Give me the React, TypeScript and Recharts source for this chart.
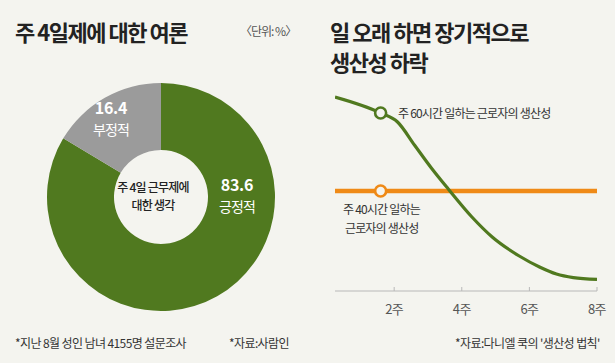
import { Cell, Line, LineChart, Pie, PieChart, XAxis, YAxis } from "recharts";

const FONT = '"Noto Sans CJK KR", "Noto Sans", sans-serif';
const BG = "#f4f4ef";
const GREEN = "#50791f";
const GRAY = "#9b9b9b";
const ORANGE = "#ef8a17";

// donut: survey on the 4-day work week (%)
const opinionNames = ["긍정적", "부정적"];
const opinionValues = [83.6, 16.4];
const opinionColors = [GREEN, GRAY];

// productivity curves (x = weeks, y = relative productivity)
const weekTicks = [2, 4, 6, 8];
const hours60Weeks = [0.25, 1.6, 2.1, 2.6, 3.1, 3.6, 4.3, 4.9, 5.7, 6.3, 6.8, 7.3, 8];
const hours60Values = [97, 89, 84.5, 73, 61.5, 51, 37, 27, 17.5, 12, 8.5, 6.7, 5.8];
const hours40Weeks = [0.25, 1.6, 8];
const hours40Values = [50, 50, 50];
const MARK_WEEK = 1.6;

const opinionData = opinionNames.map((name, i) => ({
  name,
  value: opinionValues[i],
}));
const hours60Data = hours60Weeks.map((w, i) => ({ w, v: hours60Values[i] }));
const hours40Data = hours40Weeks.map((w, i) => ({ w, v: hours40Values[i] }));

function Label({
  x,
  cy,
  text,
  size = 12,
  color = "#333",
  weight = 400,
  spacing = -0.6,
}: {
  x: number;
  cy: number;
  text: string;
  size?: number;
  color?: string;
  weight?: number;
  spacing?: number;
}) {
  return (
    <div
      style={{
        position: "absolute",
        left: x,
        top: cy - size / 2,
        lineHeight: `${size}px`,
        fontSize: size,
        fontWeight: weight,
        letterSpacing: spacing,
        color,
        whiteSpace: "nowrap",
        fontFamily: FONT,
      }}
    >
      {text}
    </div>
  );
}

function markerDot(color: string, data: { w: number }[]) {
  return (props: any) => {
    const { cx, cy, index } = props;
    if (data[index]?.w !== MARK_WEEK) return <g key={`d-${index}`} />;
    return (
      <circle
        key={`d-${index}`}
        cx={cx}
        cy={cy}
        r={5.5}
        fill={BG}
        stroke={color}
        strokeWidth={2.6}
      />
    );
  };
}

function WeekTick(props: any) {
  const { x, y, payload } = props;
  return (
    <g>
      <line x1={x} x2={x} y1={y} y2={y - 4} stroke="#b8b8b8" strokeWidth={1} />
      <text
        x={x}
        y={y + 17}
        textAnchor="middle"
        dominantBaseline="central"
        fontSize={13}
        fill="#555"
        fontFamily={FONT}
        letterSpacing={-0.6}
      >
        {`${payload.value}주`}
      </text>
    </g>
  );
}

export default function App() {
  return (
    <div
      style={{
        position: "absolute",
        left: 0,
        top: 0,
        width: 615,
        height: 363,
        background: BG,
        overflow: "hidden",
        fontFamily: FONT,
      }}
    >
      <div style={{ position: "absolute", left: 0, top: 0 }}>
        <PieChart width={310} height={363}>
          <Pie
            data={opinionData}
            dataKey="value"
            nameKey="name"
            cx={156}
            cy={192}
            innerRadius={47}
            outerRadius={114}
            startAngle={90}
            endAngle={-270}
            stroke="none"
            isAnimationActive={false}
          >
            {opinionData.map((d, i) => (
              <Cell key={d.name} fill={opinionColors[i]} />
            ))}
          </Pie>
        </PieChart>
      </div>

      {/* donut labels */}
      <svg
        width={310}
        height={363}
        style={{ position: "absolute", left: 0, top: 0, pointerEvents: "none" }}
        fontFamily={FONT}
      >
        <g textAnchor="middle" fill="#fff">
          <text x={111} y={107} dominantBaseline="central" fontSize={16} fontWeight={700} letterSpacing={-0.3}>
            16.4
          </text>
          <text x={111} y={129} dominantBaseline="central" fontSize={14} letterSpacing={-0.8}>
            부정적
          </text>
          <text x={237} y={184} dominantBaseline="central" fontSize={16} fontWeight={700} letterSpacing={-0.3}>
            83.6
          </text>
          <text x={237} y={206} dominantBaseline="central" fontSize={14} letterSpacing={-0.8}>
            긍정적
          </text>
        </g>
        <g textAnchor="middle" fill="#222" fontSize={12} fontWeight={500} letterSpacing={-0.8}>
          <text x={153} y={186} dominantBaseline="central">
            주 4일 근무제에
          </text>
          <text x={153} y={204} dominantBaseline="central">
            대한 생각
          </text>
        </g>
      </svg>

      <div style={{ position: "absolute", left: 310, top: 0 }}>
        <LineChart
          width={305}
          height={363}
          margin={{ top: 91, right: 18, left: 25, bottom: 42 }}
        >
          <XAxis
            dataKey="w"
            type="number"
            domain={[0.25, 8]}
            ticks={weekTicks}
            allowDataOverflow
            height={30}
            tickSize={0}
            tickMargin={0}
            tickLine={false}
            axisLine={{ stroke: "#b8b8b8", strokeWidth: 1 }}
            tick={<WeekTick />}
          />
          <YAxis type="number" domain={[0, 100]} hide />
          <Line
            data={hours40Data}
            dataKey="v"
            type="linear"
            stroke={ORANGE}
            strokeWidth={4.5}
            dot={markerDot(ORANGE, hours40Data)}
            activeDot={false}
            isAnimationActive={false}
          />
          <Line
            data={hours60Data}
            dataKey="v"
            type="monotone"
            stroke={GREEN}
            strokeWidth={3.2}
            dot={markerDot(GREEN, hours60Data)}
            activeDot={false}
            isAnimationActive={false}
          />
        </LineChart>
      </div>

      {/* titles */}
      <Label x={15} cy={31} text="주 4일제에 대한 여론" size={22} weight={700} color="#222" spacing={-1.5} />
      <Label x={240} cy={31} text="〈단위: %〉" size={12} color="#555" spacing={-1} />
      <div
        style={{
          position: "absolute",
          left: 330,
          top: 16,
          fontSize: 22,
          fontWeight: 700,
          lineHeight: "30px",
          letterSpacing: -1.5,
          color: "#222",
          whiteSpace: "nowrap",
        }}
      >
        일 오래 하면 장기적으로
        <br />
        생산성 하락
      </div>

      {/* line labels */}
      <Label x={398} cy={113} text="주 60시간 일하는 근로자의 생산성" size={12} color="#333" spacing={-0.8} />
      <div
        style={{
          position: "absolute",
          left: 343,
          top: 199,
          fontSize: 12,
          lineHeight: "19px",
          letterSpacing: -0.8,
          color: "#333",
          whiteSpace: "nowrap",
        }}
      >
        주 40시간 일하는
        <br />
        &nbsp;근로자의 생산성
      </div>

      {/* footnotes */}
      <Label x={15} cy={343} text="*지난 8월 성인 남녀 4155명 설문조사" size={12} color="#333" spacing={-0.6} />
      <Label x={229} cy={343} text="*자료:사람인" size={12} color="#333" spacing={-0.6} />
      <Label x={455} cy={343} text="*자료:다니엘 쿡의 '생산성 법칙'" size={12} color="#333" spacing={-0.6} />
    </div>
  );
}
